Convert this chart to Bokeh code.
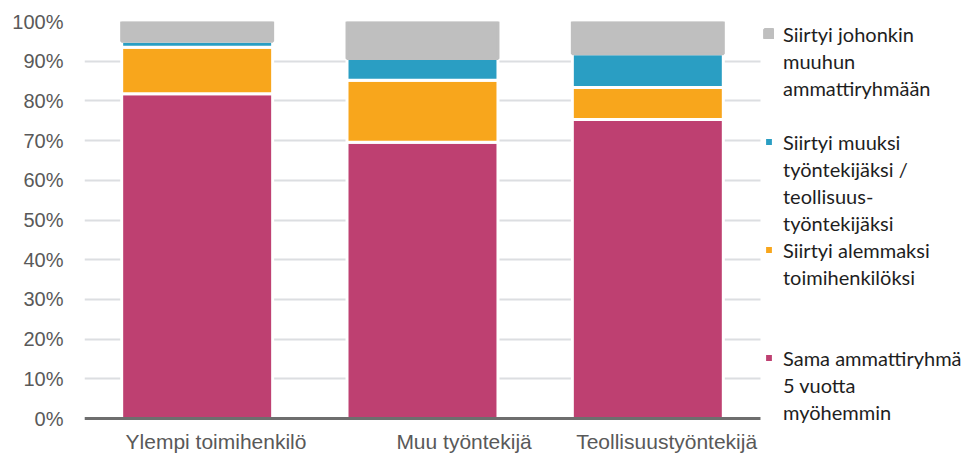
from bokeh.plotting import figure
from bokeh.models import (Range1d, NumeralTickFormatter, FixedTicker, BoxAnnotation,
                          Legend, LegendItem, Span, ColumnDataSource)
from bokeh.transform import dodge
from bokeh.core.properties import value
from bokeh.embed import file_html
from bokeh.resources import INLINE

categories = ["Ylempi toimihenkilö", "Muu työntekijä", "Teollisuustyöntekijä"]
sama = [0.818, 0.696, 0.753]
alempi = [0.117, 0.156, 0.081]
muu_tyontekija = [0.015, 0.055, 0.085]
muu_ryhma = [0.050, 0.093, 0.081]

series = ["sama", "alempi", "muu_tyontekija", "muu_ryhma"]
colors = ["#BE4071", "#F8A61C", "#2A9EC3", "#BFBFBF"]
# legend text lines per series
legend_lines = [
    ["Sama ammattiryhmä", "5 vuotta", "myöhemmin"],
    ["Siirtyi alemmaksi", "toimihenkilöksi"],
    ["Siirtyi muuksi", "työntekijäksi /", "teollisuus-", "työntekijäksi"],
    ["Siirtyi johonkin", "muuhun", "ammattiryhmään"],
]
# blank lines after each legend block (legend runs top to bottom: series 3, 2, 1, 0)
blank_after = {3: 1, 2: 0, 1: 2, 0: 0}

n = len(categories)
source = ColumnDataSource(dict(x=list(range(n)), cat=categories, sama=sama, alempi=alempi,
                               muu_tyontekija=muu_tyontekija, muu_ryhma=muu_ryhma))

# plot area runs over the legend zone on the right; bars occupy x in [-0.5, n-0.5]
p = figure(x_range=Range1d(-0.5, n - 0.5 + 0.9187), y_range=Range1d(-0.02, 1),
           width=967, height=454, output_backend="svg", toolbar_location=None,
           min_border_left=84, min_border_right=0, min_border_top=21, min_border_bottom=28)
p.outline_line_color = None

rs = p.vbar_stack(series, x="x", width=0.67, source=source, color=colors,
                  line_color=["white", "white", "white", "#BFBFBF"], line_width=3)

p.yaxis.ticker = FixedTicker(ticks=[i / 10 for i in range(11)])
p.yaxis.formatter = NumeralTickFormatter(format="0%")
p.yaxis.axis_line_color = None
p.yaxis.major_tick_line_color = None
p.yaxis.minor_tick_line_color = None
p.yaxis.major_label_standoff = 15
p.yaxis.major_label_text_font = "Liberation Sans"
p.yaxis.major_label_text_font_size = "20px"
p.yaxis.major_label_text_color = "#595959"

p.xaxis.visible = False
p.xgrid.grid_line_color = None
p.ygrid.grid_line_color = "#DCDEE1"
p.ygrid.grid_line_width = 2

# baseline at 0 %
p.add_layout(Span(location=0, dimension="width", line_color="#6E6E6E", line_width=3))
# blank out grid / baseline in the legend zone
p.add_layout(BoxAnnotation(left=n - 0.5, fill_color="white", fill_alpha=1,
                           line_alpha=0))

# category labels
p.text(x=dodge("x", 0.485), y=0, text="cat", source=source,
       text_align="right", text_baseline="alphabetic", y_offset=23,
       text_font=value("Liberation Sans"), text_font_size="21px",
       text_color="#595959", level="overlay")

# legend: one item per text line, invisible glyph for continuation / blank lines
dummy = p.scatter(x=[0], y=[0.5], size=1, fill_alpha=0, line_alpha=0)
items = []
for i in [3, 2, 1, 0]:
    lines = legend_lines[i]
    items.append(LegendItem(label=lines[0], renderers=[rs[i]]))
    items += [LegendItem(label=t, renderers=[dummy]) for t in lines[1:]]
    items += [LegendItem(label=" ", renderers=[dummy]) for _ in range(blank_after[i])]

lg = Legend(items=items, location=(679, 1), spacing=0, orientation="vertical",
            padding=0, margin=0, border_line_color=None, background_fill_alpha=0,
            glyph_width=11, glyph_height=11, label_standoff=9, label_height=27,
            label_text_font="Lato", label_text_font_size="20px",
            label_text_color="#1E1E1E")
p.add_layout(lg)

open("out.html", "w").write(file_html(p, INLINE))
